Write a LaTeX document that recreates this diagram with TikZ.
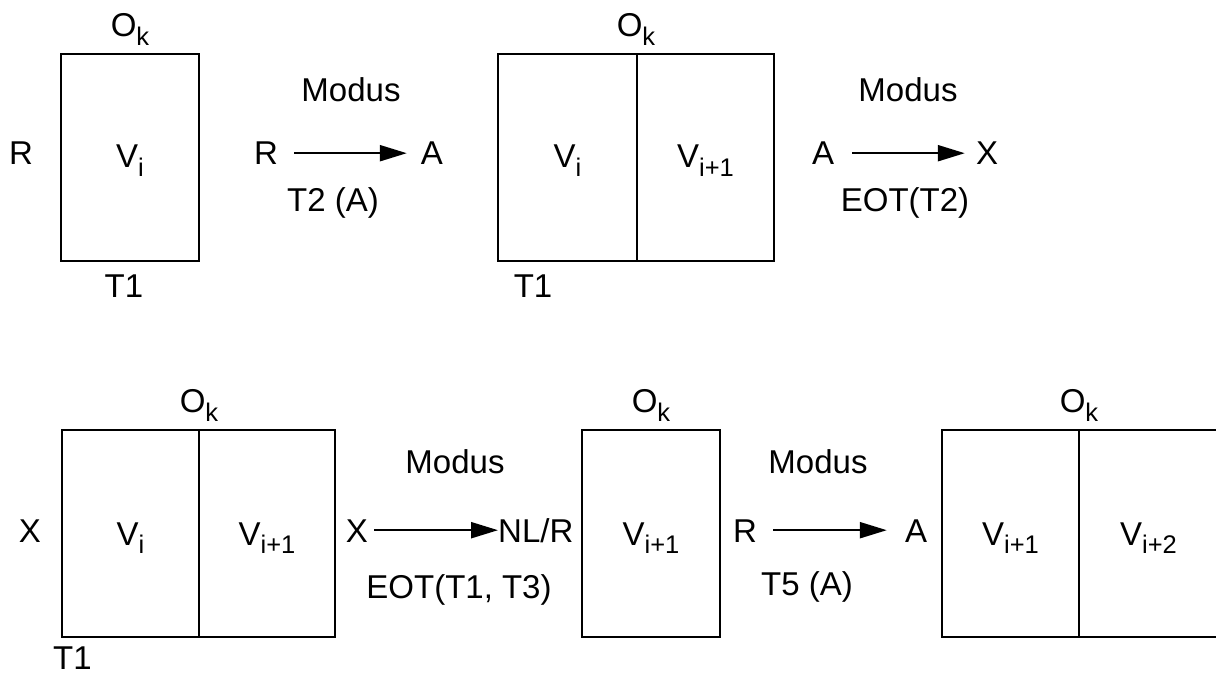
\documentclass[tikz,border=0pt]{standalone}
\usepackage{fontspec}
\setmainfont{Liberation Sans}
\usetikzlibrary{arrows.meta}
\newcommand\lowsub[1]{\raisebox{-8.5pt}{\fontsize{25.5}{29}\selectfont #1}}
\tikzset{
  txt/.style={inner sep=0pt, anchor=base, font=\fontsize{33}{39}\selectfont},
  st/.style={txt, text height=23.6pt, text depth=0pt},
  cell/.style={draw, line width=2.5pt, inner sep=0pt, minimum height=207pt},
  arr/.style={line width=2.2pt, -{Triangle[length=27pt,width=16pt]}},
}
\begin{document}
\begin{tikzpicture}[x=1pt,y=-1pt]
\useasboundingbox (0,0) rectangle (1216,676);
\clip (0,0) rectangle (1216,676);
% ---------- row 1 ----------
\node[cell, minimum width=138pt] (b1) at (130,157.5) {};
\node[txt] (ok1) at (130,37) {O\lowsub{k}};
\node[st] (rl) at (21,165) {R};
\node[txt] (v1) at (130,168) {V\lowsub{i}};
\node[txt] (t1a) at (124,298) {T1};
\node[txt] (m1) at (351,102) {Modus};
\node[st] (r1) at (266,165) {R};
\node[st] (a1) at (432,165) {A};
\node[txt] (t2a) at (333,212) {T2 (A)};
\draw[arr, shorten <=16pt, shorten >=14pt] (r1.east) -- (a1.west);

\node[cell, minimum width=139pt] (b2a) at (567.5,157.5) {};
\node[cell, minimum width=137pt] (b2b) at (705.5,157.5) {};
\node[txt] (ok2) at (636,37) {O\lowsub{k}};
\node[txt] (v2a) at (567.5,168) {V\lowsub{i}};
\node[txt] (v2b) at (705.5,168) {V\lowsub{i+1}};
\node[txt] (t1b) at (533,298) {T1};
\node[txt] (m2) at (908,102) {Modus};
\node[st] (a2) at (823,165) {A};
\node[st] (x2) at (987,165) {X};
\node[txt] (eot2) at (905,212) {EOT(T2)};
\draw[arr, shorten <=18pt, shorten >=11pt] (a2.east) -- (x2.west);

% ---------- row 2 ----------
\node[cell, minimum width=137pt] (b3a) at (130.5,533.5) {};
\node[cell, minimum width=136pt] (b3b) at (267,533.5) {};
\node[txt] (ok3) at (199,413) {O\lowsub{k}};
\node[st] (xl) at (30,542) {X};
\node[txt] (v3a) at (130.5,545) {V\lowsub{i}};
\node[txt] (v3b) at (267,545) {V\lowsub{i+1}};
\node[txt] (t1c) at (72.5,669) {T1};
\node[txt] (m3) at (455,473) {Modus};
\node[st] (x3) at (357,542) {X};
\node[st, anchor=base west] (nlr) at (498,542) {NL/R};
\node[txt] (eot3) at (459,598) {EOT(T1, T3)};
\draw[arr, shorten <=6pt] (x3.east) -- (nlr.west);

\node[cell, minimum width=138pt] (b4) at (651,533.5) {};
\node[txt] (ok4) at (651,413) {O\lowsub{k}};
\node[txt] (v4) at (651,545) {V\lowsub{i+1}};
\node[txt] (m4) at (818,473) {Modus};
\node[st] (r4) at (745,542) {R};
\node[st] (a4) at (916,542) {A};
\node[txt] (t5a) at (807,595) {T5 (A)};
\draw[arr, shorten <=16pt, shorten >=18pt] (r4.east) -- (a4.west);

\node[cell, minimum width=137pt] (b5a) at (1010.5,533.5) {};
\node[cell, minimum width=140pt] (b5b) at (1149,533.5) {};
\node[txt] (ok5) at (1079,413) {O\lowsub{k}};
\node[txt] (v5a) at (1010.5,545) {V\lowsub{i+1}};
\node[txt] (v5b) at (1148.5,545) {V\lowsub{i+2}};
\end{tikzpicture}
\end{document}
